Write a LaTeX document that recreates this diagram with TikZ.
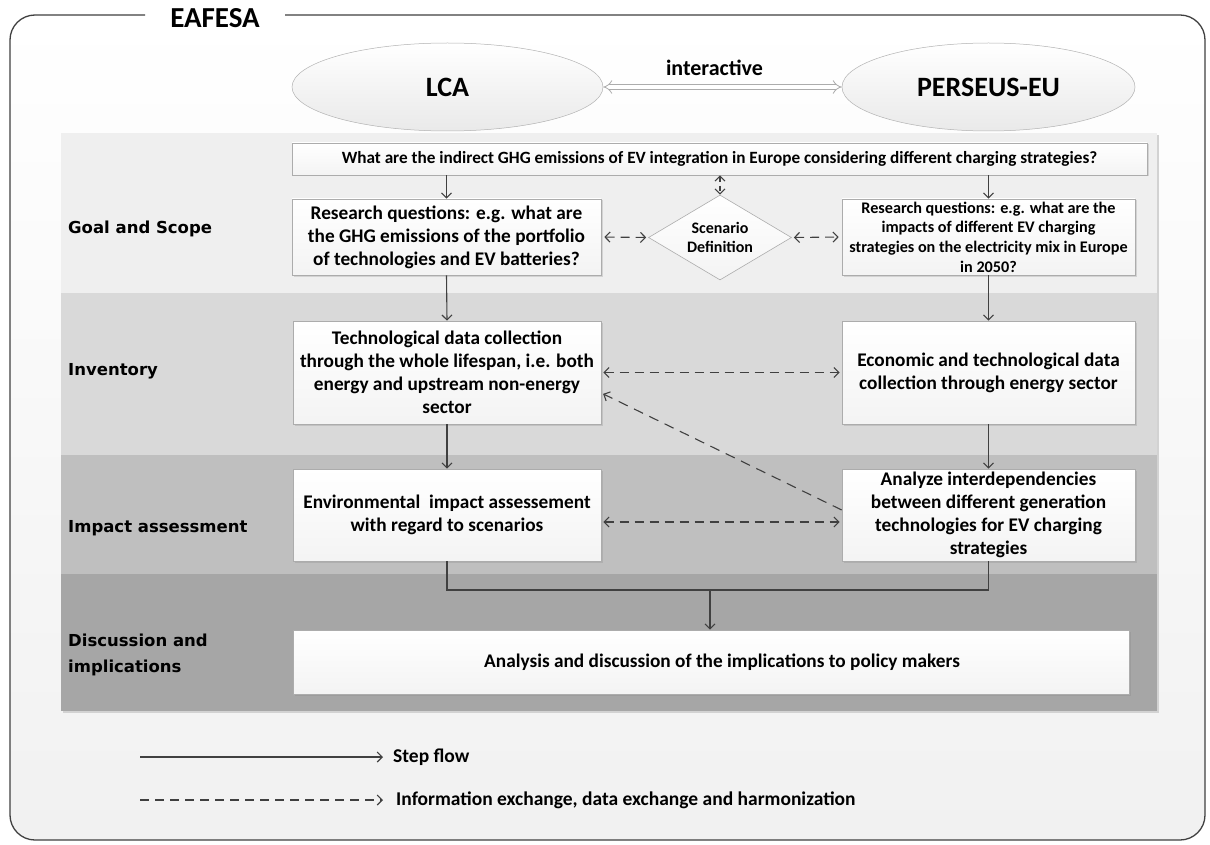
\documentclass[tikz,border=0pt]{standalone}
\usepackage{fontspec}
\setmainfont{Carlito}
\newfontfamily\labfont{DejaVu Sans}
\usetikzlibrary{arrows.meta,shapes.geometric,shadows}
\definecolor{ln}{HTML}{404040}
\definecolor{bgoal}{HTML}{EFEFEF}
\definecolor{binv}{HTML}{D9D9D9}
\definecolor{bimp}{HTML}{BFBFBF}
\definecolor{bdis}{HTML}{A6A6A6}
\tikzset{
  fs/.style={font=\fontsize{#1}{24}\selectfont\bfseries},
  bt/.style={font=\fontsize{19.3}{23}\selectfont\bfseries},
  box/.style={draw=gray!65, line width=0.6pt, top color=white, bottom color=gray!9,
    align=center, inner sep=1pt,
    drop shadow={opacity=0.25, shadow xshift=1.5pt, shadow yshift=-1.5pt}},
  oval/.style={ellipse, draw=gray!60, line width=0.5pt, top color=white, bottom color=gray!17},
  lab/.style={anchor=west, align=left, inner sep=0pt, font=\labfont\fontsize{16.5}{26}\selectfont\bfseries},
  flow/.style={draw=ln, line width=1.1pt, -{Straight Barb[length=5pt,width=10pt]}},
  plain/.style={draw=ln, line width=1.1pt},
  info/.style={draw=ln, line width=1.1pt, dash pattern=on 9pt off 6pt, -{Straight Barb[length=5pt,width=10pt]}},
  infob/.style={info, {Straight Barb[length=5pt,width=10pt]}-{Straight Barb[length=5pt,width=10pt]}},
}
\begin{document}
\begin{tikzpicture}[x=1pt,y=-1pt]
\useasboundingbox (0,0) rectangle (1210,845);
% outer frame background
\shade[top color=white, bottom color=gray!11, rounded corners=25pt] (10,15) rectangle (1205,840);
% bands
\fill[gray!35] (63,135) rectangle (1159,713);
\fill[bgoal] (61,133) rectangle (1157,293);
\fill[binv] (61,293) rectangle (1157,455);
\fill[bimp] (61,455) rectangle (1157,574);
\fill[bdis] (61,574) rectangle (1157,711);
% frame
\draw[ln, line width=1.3pt, rounded corners=25pt] (145,15) -- (10,15) -- (10,840) -- (1205,840) -- (1205,15) -- (285,15);
\node[fs=29, inner sep=0pt] (title) at (215,18) {EAFESA};

% ellipses
\node[oval, minimum width=311pt, minimum height=88pt, fs=28] (lca) at (447.5,87) {LCA};
\node[oval, minimum width=293pt, minimum height=88pt, fs=28] (per) at (988.5,87) {PERSEUS-EU};
\draw[draw=gray!65, line width=0.8pt, double=white, double distance=4pt, {Implies}-{Implies}] (lca.east) -- (per.west);
\node[fs=22, inner sep=0pt] (inter) at (714.5,68) {interactive};

% band labels
\node[lab] (lgoal) at (68,229) {Goal and Scope};
\node[lab] (linv) at (68,371) {Inventory};
\node[lab] (limp) at (68,528) {Impact assessment};
\node[lab] (ldis) at (68,655) {Discussion and\\implications};

% boxes
\node[box, minimum width=855pt, minimum height=32pt, fs=17.2] (top) at (719.5,159) {What are the indirect GHG emissions of EV integration in Europe considering different charging strategies?};
\node[box, minimum width=309pt, minimum height=76pt, bt] (rq1) at (446.5,237) {Research questions: e.g. what are\\the GHG emissions of the portfolio\\of technologies and EV batteries?};
\node[box, minimum width=293pt, minimum height=76pt, font=\fontsize{16.2}{19.7}\selectfont\bfseries] (rq2) at (988.5,237) {Research questions: e.g. what are the\\impacts of different EV charging\\strategies on the electricity mix in Europe\\in 2050?};
\node[diamond, draw=gray!65, line width=0.6pt, top color=white, bottom color=gray!9, aspect=1.68, minimum width=143pt, minimum height=85pt, inner sep=0pt, align=center, font=\fontsize{16}{19.5}\selectfont\bfseries] (sd) at (720,237.5) {Scenario\\Definition};

\node[box, minimum width=308pt, minimum height=103pt, bt] (tech) at (447,372.5) {Technological data collection\\through the whole lifespan, i.e. both\\energy and upstream non-energy\\sector};
\node[box, minimum width=293pt, minimum height=103pt, bt] (econ) at (988.5,372.5) {Economic and technological data\\collection through energy sector};

\node[box, minimum width=308pt, minimum height=92pt, bt] (env) at (447,515) {Environmental\ \ impact assessement\\with regard to scenarios};
\node[box, minimum width=293pt, minimum height=92pt, bt] (anl) at (988.5,515) {Analyze interdependencies\\between different generation\\technologies for EV charging\\strategies};

\node[box, minimum width=836pt, minimum height=64pt, bt] (ana) at (711,662) {\hspace{22pt}Analysis and discussion of the implications to policy makers};

% step flows
\draw[flow] (top.south -| rq1.north) -- (rq1.north);
\draw[flow] (top.south -| rq2.north) -- (rq2.north);
\draw[flow] (rq1.south) -- (tech.north);
\draw[flow] (rq2.south) -- (econ.north);
\draw[flow] (tech.south) -- (env.north);
\draw[flow] (econ.south) -- (anl.north);
\coordinate (mj) at (710,590);
\draw[plain] (env.south) |- (mj);
\draw[plain] (anl.south) |- (mj);
\draw[flow] (mj) -- (ana.north -| mj);

% information exchange
\draw[infob, dash pattern=on 5pt off 4pt] (top.south -| sd.north) -- (sd.north);
\draw[infob, shorten <=3pt, shorten >=2pt] (rq1.east) -- (sd.west);
\draw[infob, shorten <=2pt, shorten >=3pt] (sd.east) -- (rq2.west);
\draw[infob, shorten <=2pt, shorten >=2pt] (tech.east) -- (econ.west);
\draw[infob, shorten <=2pt, shorten >=2pt] (env.east |- 0,522) -- (anl.west |- 0,522);
\draw[info, dash pattern=on 10pt off 7pt, shorten >=2pt] (anl.west |- 0,510) -- (tech.east |- 0,393);

% legend
\node[anchor=west, inner sep=0pt, fs=19.5] (lg1) at (393,757) {Step flow};
\node[anchor=west, inner sep=0pt, fs=19.5] (lg2) at (396,800) {Information exchange, data exchange and harmonization};
\coordinate (s1) at (140,757);
\coordinate (s2) at (140,800);
\draw[flow] (s1) -- ([xshift=-10pt]lg1.west);
\draw[info] (s2) -- ([xshift=-13pt]lg2.west);
\end{tikzpicture}
\end{document}
